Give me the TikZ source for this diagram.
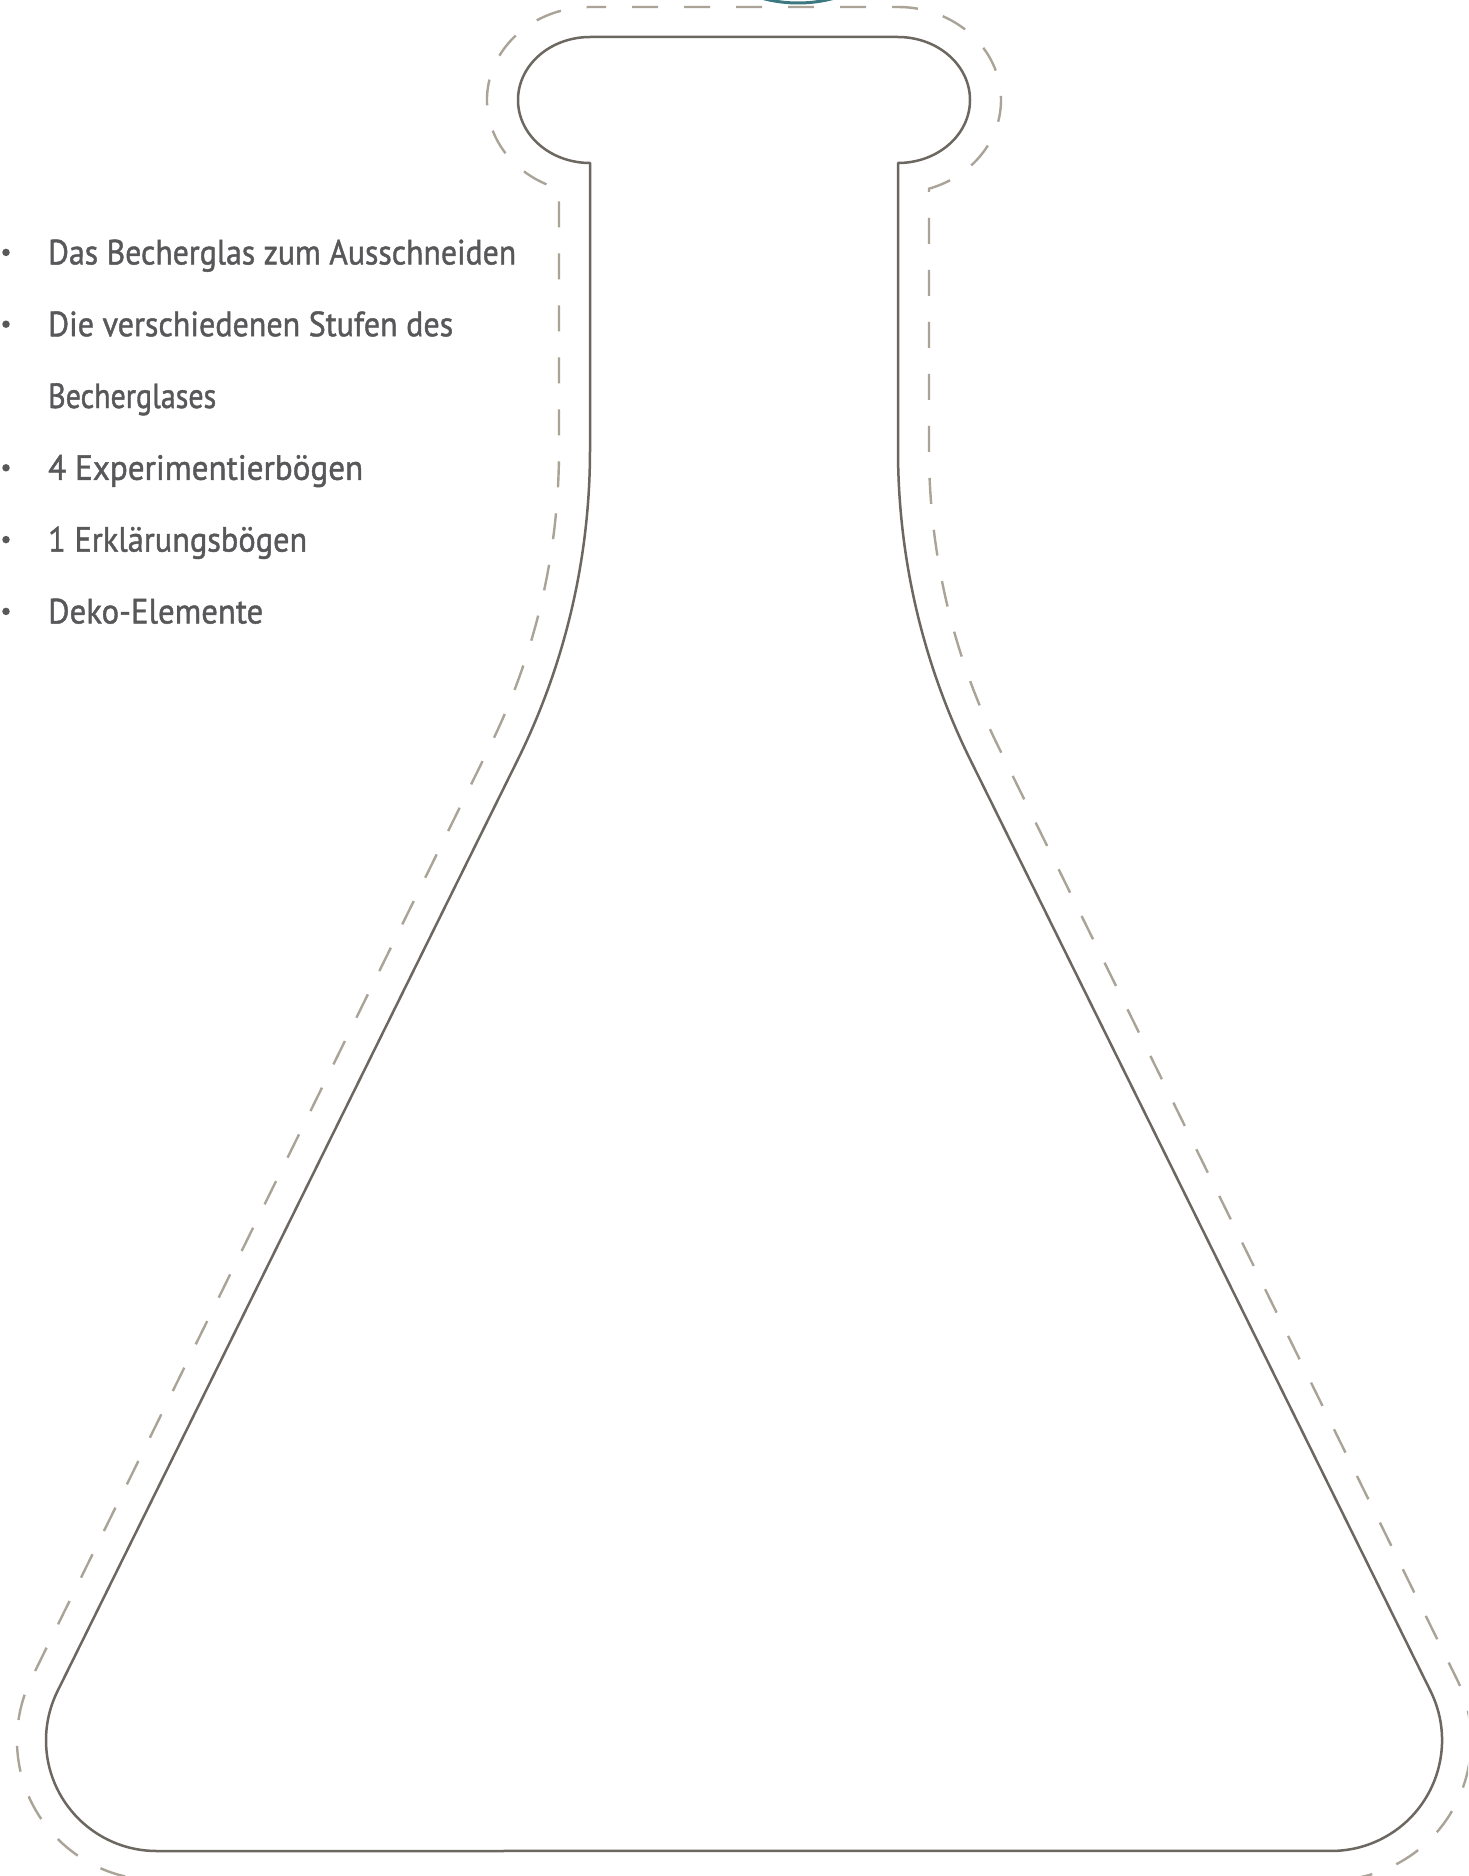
\documentclass[tikz,border=0pt]{standalone}
\usepackage{fontspec}
\setmainfont{PT Sans}
\newfontfamily\listfont[FakeBold=1.3]{PT Sans}
\usepackage{graphicx}
\definecolor{outline}{RGB}{108,103,97}
\definecolor{cut}{RGB}{170,163,152}
\definecolor{txt}{RGB}{88,88,90}
\definecolor{tealc}{RGB}{60,120,128}
\tikzset{
  solidline/.style={draw=outline, line width=2.5pt, line join=round},
  cutline/.style={draw=cut, line width=2.4pt, dash pattern=on 26pt off 26pt, dash phase=10pt},
  item/.style={anchor=base west, inner sep=0pt, text=txt, font=\listfont\fontsize{35}{40}\selectfont},
  bulletdot/.style={circle, fill=txt, inner sep=0pt, minimum size=7.5pt}
}
\begin{document}
\begin{tikzpicture}[x=1pt,y=-1pt]
\useasboundingbox (0,0) rectangle (1468,1876);
\clip (0,0) rectangle (1468,1876);
\fill[white] (0,0) rectangle (1468,1876);

% partly visible teal ring at the top edge
\draw[tealc, line width=3pt] (798,-134) circle[radius=137];

% dashed cutting line
\draw[cutline] (590,7) -- (898,7)
  arc[start angle=-90, end angle=72.5, x radius=103, y radius=93]
  -- (929,450)
  .. controls (929,552.8) and (952.7,654.2) .. (998.2,746.4)
  -- (1456.5,1678.4)
  arc[start angle=-26.4, end angle=90, radius=139.7]
  -- (156.7,1880)
  arc[start angle=90, end angle=206.4, radius=139.7]
  -- (489.8,746.4)
  .. controls (535.3,654.2) and (559,552.8) .. (559,450)
  -- (559,188.7)
  arc[start angle=107.5, end angle=270, x radius=103, y radius=93]
  -- cycle;

% flask outline
\draw[solidline] (590,37) -- (898,37)
  arc[start angle=-90, end angle=90, x radius=72, y radius=63]
  -- (898,450)
  .. controls (898,557.6) and (922.7,663.5) .. (970.4,760)
  -- (1430.5,1691)
  arc[start angle=-26.4, end angle=90, radius=110.7]
  -- (156.7,1851)
  arc[start angle=90, end angle=206.4, radius=110.7]
  -- (517.6,760)
  .. controls (565.3,663.5) and (590,557.6) .. (590,450)
  -- (590,163)
  arc[start angle=90, end angle=270, x radius=72, y radius=63]
  -- cycle;

% list
\node[bulletdot] (b1) at (6,252.4) {};
\node[bulletdot] (b2) at (6,324.2) {};
\node[bulletdot] (b4) at (6,467.8) {};
\node[bulletdot] (b5) at (6,539.6) {};
\node[bulletdot] (b6) at (6,611.4) {};
\node[item] (t1) at (48,264.4) {\resizebox{468pt}{\height}{Das Becherglas zum Ausschneiden}};
\node[item] (t2) at (48,336.2) {\resizebox{405pt}{\height}{Die verschiedenen Stufen des}};
\node[item] (t3) at (48,408) {\resizebox{168pt}{\height}{Becherglases}};
\node[item] (t4) at (48,479.8) {\resizebox{315pt}{\height}{4 Experimentierbögen}};
\node[item] (t5) at (48,551.6) {\resizebox{259pt}{\height}{1 Erklärungsbögen}};
\node[item] (t6) at (48,623.4) {\resizebox{215pt}{\height}{Deko-Elemente}};
\end{tikzpicture}
\end{document}
